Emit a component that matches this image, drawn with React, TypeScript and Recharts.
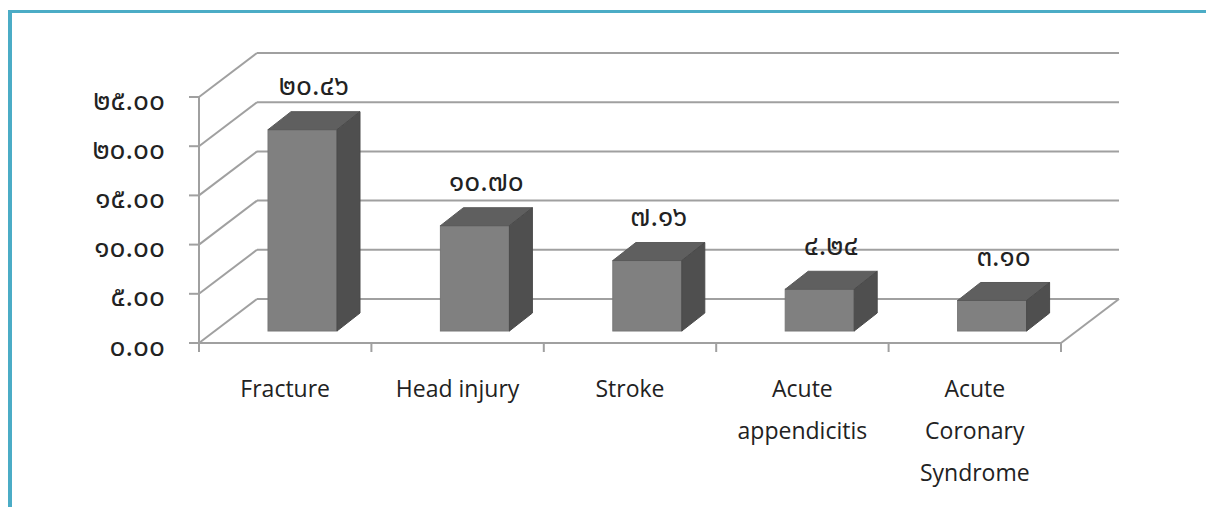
import React from 'react';
import { BarChart, Bar, XAxis, YAxis, CartesianGrid, LabelList } from 'recharts';

// values
const categories = ['Fracture', 'Head injury', 'Stroke', 'Acute\nappendicitis', 'Acute\nCoronary\nSyndrome'];
const values = [20.46, 10.7, 7.16, 4.24, 3.1];
const yTicks = [0, 5, 10, 15, 20, 25];

const data = categories.map((name, i) => ({ name, value: values[i] }));

const FONT = "'Open Sans', 'Noto Sans', sans-serif";
const THAI_FONT = "'Noto Sans Thai', 'Noto Serif Thai', 'Kinnari', 'Norasi', 'Loma', 'Garuda', 'Waree', 'Open Sans', sans-serif";
const GRID = '#a0a0a0';
// wall depth (fake 3D)
const DX = 58;
const DY = -44;
// bar placement inside the depth
const BAR_DX = 17;
const BAR_DY = -12;
const BAR_DEPTH_X = 23;
const BAR_DEPTH_Y = -18;

const thaiDigits = ['๐', '๑', '๒', '๓', '๔', '๕', '๖', '๗', '๘', '๙'];
const toThai = (s: string) => s.replace(/[0-9]/g, (d) => thaiDigits[Number(d)]);

const wallLine = (props: any) => {
  const { x1, y1, x2 } = props;
  return (
    <g key={props.key}>
      <line x1={x1} y1={y1} x2={x1 + DX} y2={y1 + DY} stroke={GRID} strokeWidth={2} />
      <line x1={x1 + DX} y1={y1 + DY} x2={x2 + DX} y2={y1 + DY} stroke={GRID} strokeWidth={2} />
    </g>
  );
};

const Bar3D = (props: any) => {
  const { x, y, width, height } = props;
  const fx = x + BAR_DX;
  const fy = y + BAR_DY;
  const top = `${fx},${fy} ${fx + BAR_DEPTH_X},${fy + BAR_DEPTH_Y} ${fx + width + BAR_DEPTH_X},${fy + BAR_DEPTH_Y} ${fx + width},${fy}`;
  const side = `${fx + width},${fy} ${fx + width + BAR_DEPTH_X},${fy + BAR_DEPTH_Y} ${fx + width + BAR_DEPTH_X},${fy + height + BAR_DEPTH_Y} ${fx + width},${fy + height}`;
  return (
    <g>
      <rect x={fx} y={fy} width={width} height={height} fill="#808080" stroke="#777" strokeWidth={1} />
      <polygon points={top} fill="#5f5f5f" stroke="#5a5a5a" strokeWidth={1} />
      <polygon points={side} fill="#4f4f4f" stroke="#4a4a4a" strokeWidth={1} />
    </g>
  );
};

const valueLabel = (props: any) => {
  const { x, y, width, value } = props;
  return (
    <text
      x={x + BAR_DX + width / 2 + BAR_DEPTH_X / 2}
      y={y + BAR_DY - 43}
      textAnchor="middle"
      dominantBaseline="central"
      fontFamily={THAI_FONT}
      fontSize={28}
      fill="#222"
    >
      {toThai(Number(value).toFixed(2))}
    </text>
  );
};

const ValueTick = (props: any) => {
  const { x, y, payload } = props;
  return (
    <text x={x} y={y + 4} textAnchor="end" dominantBaseline="central" fontFamily={THAI_FONT} fontSize={28} fill="#222">
      {toThai(Number(payload.value).toFixed(2))}
    </text>
  );
};

const CategoryTick = (props: any) => {
  const { x, y, payload, index, visibleTicksCount, width } = props;
  const band = width && visibleTicksCount ? width / visibleTicksCount : 172.4;
  const lines = String(payload.value).split('\n');
  const last = index === (visibleTicksCount || categories.length) - 1;
  return (
    <g>
      <line x1={x - band / 2} y1={y} x2={x - band / 2} y2={y + 9} stroke={GRID} strokeWidth={2} />
      {last && (
        <>
          <line x1={x + band / 2} y1={y} x2={x + band / 2} y2={y + 9} stroke={GRID} strokeWidth={2} />
          <line x1={x + band / 2} y1={y} x2={x + band / 2 + DX} y2={y + DY} stroke={GRID} strokeWidth={2} />
        </>
      )}
      {lines.map((line, i) => (
        <text key={i} x={x} y={y + 54 + i * 42} textAnchor="middle" fontFamily={FONT} fontSize={23} fill="#222">
          {line}
        </text>
      ))}
    </g>
  );
};

const App: React.FC = () => {
  return (
    <div style={{ position: 'absolute', left: 0, top: 0, width: 1206, height: 507, background: '#fff' }}>
      <div
        style={{
          position: 'absolute',
          left: 8,
          top: 10,
          right: 0,
          bottom: 0,
          borderTop: '3px solid #4bacc6',
          borderLeft: '4px solid #4bacc6',
        }}
      />
      <BarChart
        width={1206}
        height={507}
        data={data}
        margin={{ top: 97, right: 145, bottom: 0, left: 119 }}
        style={{ position: 'absolute', left: 0, top: 0 }}
      >
        <CartesianGrid vertical={false} horizontal={wallLine} />
        <XAxis
          dataKey="name"
          height={164}
          interval={0}
          tickLine={false}
          tickSize={0}
          tickMargin={0}
          axisLine={{ stroke: GRID, strokeWidth: 2 }}
          tick={<CategoryTick />}
        />
        <YAxis
          width={80}
          domain={[0, 25]}
          ticks={yTicks}
          interval={0}
          tickSize={10}
          tickMargin={24}
          axisLine={{ stroke: GRID, strokeWidth: 2 }}
          tickLine={{ stroke: GRID, strokeWidth: 2 }}
          tick={<ValueTick />}
        />
        <Bar dataKey="value" barSize={69} shape={<Bar3D />} isAnimationActive={false}>
          <LabelList dataKey="value" content={valueLabel} />
        </Bar>
      </BarChart>
    </div>
  );
};

export default App;
